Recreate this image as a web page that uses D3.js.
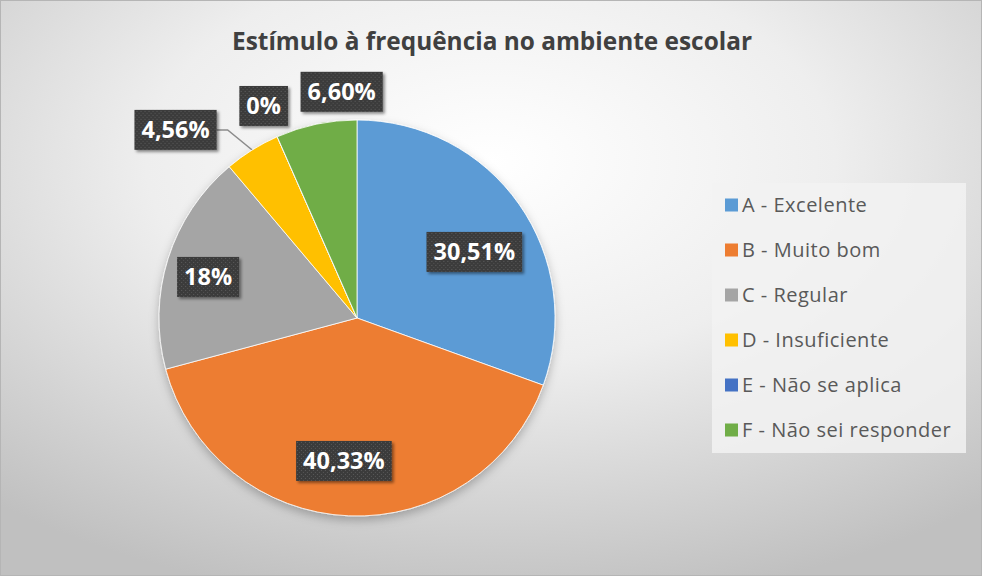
<!DOCTYPE html>
<html>
<head>
<meta charset="utf-8">
<script src="https://cdn.jsdelivr.net/npm/d3@7"></script>
<style>
  body { margin: 0; background: #fff; }
  svg { display: block; }
</style>
</head>
<body>
<script>
// chart data
var categories = ["A - Excelente", "B - Muito bom", "C - Regular", "D - Insuficiente", "E - Não se aplica", "F - Não sei responder"];
var values = [30.51, 40.33, 18, 4.56, 0, 6.60];
var valueLabels = ["30,51%", "40,33%", "18%", "4,56%", "0%", "6,60%"];
var colors = ["#5B9BD5", "#ED7D31", "#A5A5A5", "#FFC000", "#4472C4", "#70AD47"];
var title = "Estímulo à frequência no ambiente escolar";

var W = 982, H = 576;
var cx = 357, cy = 318, radius = 198;

// label placement: [angle nudge in degrees, radius factor]
var labelPlace = [[5.7, 0.68], [2.8, 0.725], [-2, 0.78], [-12, 1.32], [0, 1.17], [8, 1.145]];

var svg = d3.select("body").append("svg")
    .attr("width", W)
    .attr("height", H);

var defs = svg.append("defs");

// background gradient
var bg = defs.append("radialGradient")
    .attr("id", "bg")
    .attr("cx", "50%").attr("cy", "28%").attr("r", "78%");
bg.append("stop").attr("offset", "0%").attr("stop-color", "#ffffff");
bg.append("stop").attr("offset", "45%").attr("stop-color", "#eeeeee");
bg.append("stop").attr("offset", "100%").attr("stop-color", "#c0c0c0");

// dotted texture for data labels
var pat = defs.append("pattern")
    .attr("id", "dots")
    .attr("width", 4).attr("height", 4)
    .attr("patternUnits", "userSpaceOnUse");
pat.append("rect").attr("width", 4).attr("height", 4).attr("fill", "#3b3b3b");
pat.append("rect").attr("x", 1).attr("y", 1).attr("width", 1).attr("height", 1).attr("fill", "#5e5e5e");
pat.append("rect").attr("x", 3).attr("y", 3).attr("width", 1).attr("height", 1).attr("fill", "#555555");

var shadow = defs.append("filter").attr("id", "shadow")
    .attr("x", "-20%").attr("y", "-20%").attr("width", "150%").attr("height", "160%");
shadow.append("feDropShadow")
    .attr("dx", 2).attr("dy", 2).attr("stdDeviation", 1.8)
    .attr("flood-color", "#000").attr("flood-opacity", 0.45);

var pieShadow = defs.append("filter").attr("id", "pieShadow")
    .attr("x", "-20%").attr("y", "-20%").attr("width", "140%").attr("height", "140%");
pieShadow.append("feDropShadow")
    .attr("dx", 0).attr("dy", 4).attr("stdDeviation", 5)
    .attr("flood-color", "#000").attr("flood-opacity", 0.25);

svg.append("rect")
    .attr("x", 0.5).attr("y", 0.5)
    .attr("width", W - 1).attr("height", H - 1)
    .attr("fill", "url(#bg)")
    .attr("stroke", "#b5b5b5");

// title
svg.append("text")
    .attr("x", 492)
    .attr("y", 50)
    .attr("text-anchor", "middle")
    .attr("textLength", 520)
    .attr("lengthAdjust", "spacingAndGlyphs")
    .style("font", "bold 25px 'Open Sans', sans-serif")
    .style("fill", "#404040")
    .text(title);

// pie
var pie = d3.pie().sort(null).value(function(d) { return d; });
var arcs = pie(values);
var arc = d3.arc().innerRadius(0).outerRadius(radius);

var g = svg.append("g")
    .attr("transform", "translate(" + cx + "," + cy + ")");

g.append("g")
    .attr("filter", "url(#pieShadow)")
  .selectAll("path")
    .data(arcs)
    .enter().append("path")
    .attr("d", arc)
    .attr("fill", function(d, i) { return colors[i]; })
    .attr("stroke", "#ffffff")
    .attr("stroke-width", 0.8);

function polar(a, r) {
  return [r * Math.sin(a), -r * Math.cos(a)];
}

// data labels
arcs.forEach(function(d, i) {
  var mid = (d.startAngle + d.endAngle) / 2;
  var a = mid + labelPlace[i][0] * Math.PI / 180;
  var p = polar(a, radius * labelPlace[i][1]);

  var lg = g.append("g").attr("transform", "translate(" + p[0] + "," + p[1] + ")");
  var t = lg.append("text")
      .attr("text-anchor", "middle")
      .attr("dy", "0.36em")
      .style("font", "bold 23.5px 'Open Sans', sans-serif")
      .style("fill", "#ffffff")
      .text(valueLabels[i]);
  var tw = t.node().getComputedTextLength();
  var bw = tw + 14, bh = 40;
  lg.insert("rect", "text")
      .attr("x", -bw / 2).attr("y", -bh / 2)
      .attr("width", bw).attr("height", bh)
      .attr("fill", "url(#dots)")
      .attr("filter", "url(#shadow)");

  // leader line for labels pushed away from their slice
  if (labelPlace[i][1] > 1.25) {
    var edge = polar(mid, radius);
    var sx = p[0] + bw / 2;
    g.insert("path", "g")
        .attr("d", d3.line()([[sx, p[1]], [sx + 11, p[1]], edge]))
        .attr("fill", "none")
        .attr("stroke", "#8c8c8c")
        .attr("stroke-width", 1.5);
  }
});

// legend
var legend = svg.append("g").attr("transform", "translate(712,183)");
legend.append("rect")
    .attr("width", 254).attr("height", 270)
    .attr("fill", "#f2f2f2")
    .attr("fill-opacity", 0.85);

var rowY = d3.scalePoint().domain(categories).range([22, 247]);

var item = legend.selectAll(".item")
    .data(categories)
    .enter().append("g")
    .attr("class", "item")
    .attr("transform", function(d) { return "translate(13," + rowY(d) + ")"; });

item.append("rect")
    .attr("x", 0).attr("y", -6.5)
    .attr("width", 13).attr("height", 13)
    .attr("fill", function(d, i) { return colors[i]; });

item.append("text")
    .attr("x", 17)
    .attr("dy", "0.36em")
    .style("font", "20px 'Open Sans', sans-serif")
    .style("letter-spacing", "0.5px")
    .style("fill", "#595959")
    .text(function(d) { return d; });
</script>
</body>
</html>
